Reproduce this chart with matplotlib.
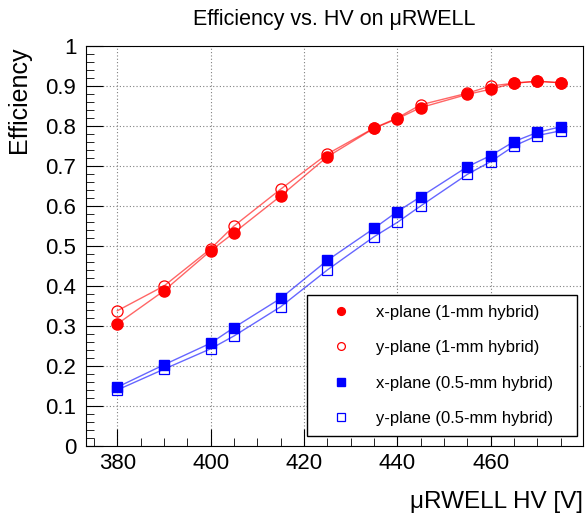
import matplotlib
matplotlib.use('Agg')
import matplotlib.pyplot as plt
from matplotlib.ticker import MultipleLocator
import numpy as np

plt.rcParams['font.family'] = ['Liberation Sans', 'DejaVu Sans']

# HV points (V)
hv = [380, 390, 400, 405, 415, 425, 435, 440, 445, 455, 460, 465, 470, 475]

# efficiencies
x_1mm = [0.305, 0.388, 0.488, 0.533, 0.625, 0.723, 0.794, 0.818, 0.846, 0.879, 0.892, 0.907, 0.912, 0.908]
y_1mm = [0.338, 0.400, 0.493, 0.550, 0.642, 0.730, 0.795, 0.820, 0.853, 0.882, 0.900, 0.907, 0.912, 0.908]
x_05mm = [0.147, 0.203, 0.257, 0.296, 0.369, 0.464, 0.544, 0.586, 0.623, 0.698, 0.726, 0.761, 0.784, 0.798]
y_05mm = [0.140, 0.192, 0.243, 0.275, 0.348, 0.440, 0.523, 0.559, 0.600, 0.679, 0.711, 0.750, 0.776, 0.788]

labels = ['x-plane (1-mm hybrid)', 'y-plane (1-mm hybrid)',
          'x-plane (0.5-mm hybrid)', 'y-plane (0.5-mm hybrid)']

fig = plt.figure(figsize=(5.86, 5.21), dpi=100)
ax = fig.add_axes([0.1468, 0.144, 0.8481, 0.7677])

red_line = (1.0, 0.0, 0.0, 0.6)
blue_line = (0.0, 0.0, 1.0, 0.6)

ax.plot(hv, x_1mm, color=red_line, lw=1, marker='o', ms=8,
        mfc='red', mec='red', label=labels[0])
ax.plot(hv, y_1mm, color=red_line, lw=1, marker='o', ms=8,
        mfc='none', mec='red', mew=0.9, label=labels[1])
ax.plot(hv, x_05mm, color=blue_line, lw=1, marker='s', ms=7.5,
        mfc='blue', mec='blue', label=labels[2])
ax.plot(hv, y_05mm, color=blue_line, lw=1, marker='s', ms=7.5,
        mfc='none', mec='blue', mew=0.9, label=labels[3])

ax.set_xlim(373.3, 479.8)
ax.set_ylim(0, 1)
ax.xaxis.set_major_locator(MultipleLocator(20))
ax.xaxis.set_minor_locator(MultipleLocator(5))
ax.yaxis.set_minor_locator(MultipleLocator(0.02))
ax.set_yticks(np.arange(0, 1.01, 0.1))
ax.set_yticklabels(['0', '0.1', '0.2', '0.3', '0.4', '0.5', '0.6', '0.7', '0.8', '0.9', '1'])
ax.tick_params(which='both', direction='in', labelsize=16)
ax.tick_params(which='major', length=12)
ax.tick_params(which='minor', length=6)
ax.tick_params(axis='x', pad=5)
ax.tick_params(axis='y', pad=7)
ax.grid(True, which='major', ls=(0, (1, 2)), color='gray', lw=0.8)

ax.set_title('Efficiency vs. HV on \u03bcRWELL', fontsize=15.5, pad=15)
ax.set_ylabel('Efficiency', fontsize=18, loc='top', labelpad=10)
ax.set_xlabel('\u03bcRWELL HV [V]', fontsize=17.5, loc='right', labelpad=12)

leg = ax.legend(loc='lower left', bbox_to_anchor=(0.445, 0.025, 0.543, 0.353),
                mode='expand', fontsize=12,
                frameon=True, fancybox=False, edgecolor='black', framealpha=1,
                handlelength=2.9, handletextpad=0.6, labelspacing=1.22,
                borderpad=0.6, borderaxespad=0, markerscale=0.7)
leg.get_frame().set_linewidth(1)
for h in leg.legend_handles:
    h.set_linestyle('none')

fig.savefig('out.png', dpi=100)
